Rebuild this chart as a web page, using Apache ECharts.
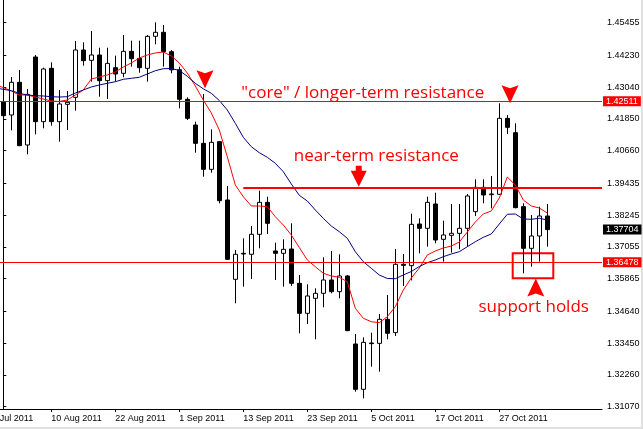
<!DOCTYPE html>
<html><head><meta charset="utf-8">
<script src="https://cdn.jsdelivr.net/npm/echarts@6/dist/echarts.min.js"></script>
<style>html,body{margin:0;padding:0;background:#fff}#c{width:643px;height:429px}</style>
</head><body><div id="c"></div>
<script>
// ---- categories (trading days) ----
const dates = ['2 Aug 2011','3 Aug 2011','4 Aug 2011','5 Aug 2011','8 Aug 2011','9 Aug 2011','10 Aug 2011','11 Aug 2011','12 Aug 2011','15 Aug 2011','16 Aug 2011','17 Aug 2011','18 Aug 2011','19 Aug 2011','22 Aug 2011','23 Aug 2011','24 Aug 2011','25 Aug 2011','26 Aug 2011','29 Aug 2011','30 Aug 2011','31 Aug 2011',
 '1 Sep 2011','2 Sep 2011','5 Sep 2011','6 Sep 2011','7 Sep 2011','8 Sep 2011','9 Sep 2011','12 Sep 2011','13 Sep 2011','14 Sep 2011','15 Sep 2011','16 Sep 2011','19 Sep 2011','20 Sep 2011','21 Sep 2011','22 Sep 2011','23 Sep 2011','26 Sep 2011','27 Sep 2011','28 Sep 2011','29 Sep 2011','30 Sep 2011',
 '3 Oct 2011','4 Oct 2011','5 Oct 2011','6 Oct 2011','7 Oct 2011','10 Oct 2011','11 Oct 2011','12 Oct 2011','13 Oct 2011','14 Oct 2011','17 Oct 2011','18 Oct 2011','19 Oct 2011','20 Oct 2011','21 Oct 2011','24 Oct 2011','25 Oct 2011','26 Oct 2011','27 Oct 2011','28 Oct 2011','31 Oct 2011',
 '1 Nov 2011','2 Nov 2011','3 Nov 2011','4 Nov 2011'];

// ---- OHLC ----
const open = [1.42496,1.41997,1.43221,1.40873,1.44170,1.41747,1.43745,1.41747,1.42397,1.42659,1.44432,1.44045,1.44245,1.43283,1.43770,1.43558,1.44382,1.44120,1.43745,1.44944,1.45094,1.44369,
 1.43690,1.42584,1.41622,1.40935,1.39961,1.40998,1.38813,1.35841,1.36815,1.36778,1.37526,1.38725,1.36903,1.36815,1.36977,1.35691,1.34567,1.35129,1.35317,1.35816,1.35379,1.35966,
 1.33418,1.31720,1.33456,1.33443,1.34343,1.33843,1.36403,1.36353,1.37914,1.37751,1.38663,1.37339,1.37489,1.37564,1.37751,1.38376,1.39287,1.39012,1.39025,1.41872,1.41335,
 1.38563,1.37002,1.37464,1.38213];
const close = [1.41972,1.43221,1.40848,1.42771,1.41747,1.43720,1.41747,1.42409,1.42471,1.44432,1.44032,1.44245,1.43283,1.43932,1.43533,1.44382,1.44107,1.43770,1.44944,1.45094,1.44369,1.43690,
 1.42584,1.41872,1.40935,1.39961,1.40973,1.38788,1.36590,1.36778,1.36790,1.37527,1.38725,1.37938,1.36815,1.36965,1.35691,1.34567,1.35217,1.35317,1.35816,1.35379,1.35966,1.33918,
 1.31720,1.33481,1.33431,1.34343,1.33818,1.36403,1.36365,1.37901,1.37751,1.38725,1.37314,1.37502,1.37564,1.37751,1.38963,1.39287,1.39000,1.39038,1.41872,1.41535,1.38526,
 1.37002,1.37464,1.38213,1.37704];
const low = [1.41497,1.41422,1.40830,1.40523,1.41273,1.41497,1.41597,1.40998,1.41435,1.42159,1.43845,1.43246,1.42684,1.42596,1.43246,1.43408,1.43808,1.43583,1.43246,1.44644,1.43808,1.43558,
 1.42246,1.41809,1.40586,1.39687,1.39836,1.38688,1.36565,1.34942,1.35566,1.35854,1.37002,1.37539,1.35816,1.35566,1.35591,1.33818,1.34168,1.33593,1.34792,1.35317,1.35129,1.33900,
 1.31633,1.31383,1.32569,1.32382,1.33593,1.33718,1.35591,1.35800,1.36815,1.37065,1.37190,1.36503,1.36840,1.36965,1.37065,1.38213,1.38688,1.38501,1.39000,1.41285,1.38501,
 1.36066,1.36315,1.36503,1.37065];
const high = [1.42809,1.43420,1.43683,1.42971,1.44245,1.43770,1.43970,1.42933,1.42896,1.44769,1.44719,1.45144,1.44519,1.44519,1.44220,1.44994,1.44782,1.44782,1.44994,1.45468,1.45369,1.44432,
 1.43808,1.42659,1.41747,1.42783,1.41460,1.41010,1.39337,1.36940,1.37377,1.37839,1.39162,1.38937,1.37215,1.37340,1.37939,1.36003,1.35654,1.35504,1.36665,1.36902,1.36778,1.36003,
 1.33793,1.33668,1.33843,1.34542,1.35254,1.36977,1.36790,1.38300,1.38126,1.38938,1.39087,1.38039,1.38663,1.38663,1.39038,1.39587,1.39587,1.39712,1.42434,1.41997,1.41685,
 1.38688,1.38251,1.38563,1.38663];

// ---- moving averages (first value = day before 2 Aug) ----
const redMA = [1.43121,1.43027,1.42896,1.42746,1.42746,1.42671,1.42596,1.42521,1.42503,1.42559,1.42746,1.42933,1.43346,1.43420,1.43495,1.43608,1.43795,1.43945,1.44132,1.44245,1.44320,1.44357,1.44207,
 1.43945,1.43570,1.43083,1.42559,1.42072,1.41435,1.40435,1.39375,1.38936,1.38588,1.38588,1.38562,1.38187,1.37876,1.37501,1.37033,1.36565,1.36314,1.36067,1.35966,1.35917,1.35752,
 1.34756,1.34381,1.34254,1.34216,1.34441,1.34815,1.35441,1.35891,1.36265,1.36752,1.36902,1.37014,1.37089,1.37239,1.37614,1.37988,1.38288,1.38401,1.38888,1.39674,1.39375,
 1.38813,1.38588,1.38513,1.38326];
const blueMA = [1.43008,1.42960,1.42907,1.42810,1.42746,1.42720,1.42709,1.42682,1.42671,1.42682,1.42821,1.42933,1.43046,1.43121,1.43184,1.43244,1.43334,1.43372,1.43409,1.43533,1.43656,1.43731,1.43739,
 1.43664,1.43447,1.43184,1.42978,1.42810,1.42540,1.42184,1.41686,1.41162,1.40809,1.40585,1.40412,1.40188,1.39873,1.39412,1.38989,1.38775,1.38438,1.38127,1.37839,1.37625,1.37378,
 1.36876,1.36501,1.36254,1.36003,1.35872,1.35864,1.36003,1.36134,1.36321,1.36464,1.36565,1.36689,1.36790,1.36876,1.37063,1.37250,1.37415,1.37539,1.37914,1.38277,1.38288,
 1.38101,1.38090,1.38127,1.38063];

// ---- axis ticks ----
const yTicks = [1.31070,1.32260,1.33450,1.34640,1.35865,1.37055,1.38245,1.39435,1.40660,1.41850,1.43040,1.44230,1.45455];
const xTickIndex = [-2,6,14,22,30,38,46,54,62];
const xTickLabels = ['29 Jul 2011','10 Aug 2011','22 Aug 2011','1 Sep 2011','13 Sep 2011','23 Sep 2011','5 Oct 2011','17 Oct 2011','27 Oct 2011'];

// ---- levels ----
const coreResistance = 1.42511;
const nearResistance = 1.39262;
const nearResStartIdx = 30;
const supportLevel = 1.36478;
const lastPrice = close[close.length - 1];

// ---- annotation anchors (index, price) ----
const arrowDownAnchors = [[25.21, 1.43338], [63.34, 1.42776]];
const arrowStemAnchor = [44.43, 1.39700];
const arrowUpAnchor = [66.56, 1.35535];
const textNotes = [
  ['"core" / longer-term resistance', 44.93, 1.42821],
  ['near-term resistance', 46.63, 1.40472],
  ['support holds', 66.3, 1.34793]
];
const supportBox = [[63.675, 1.36816], [68.75, 1.35879]];

const X_MIN = -0.4125, X_MAX = 74.8375;
const Y_MIN = 1.30983, Y_MAX = 1.46305;
const RED = '#ff0000';
const AXFONT = 'Liberation Sans, Arial, sans-serif';

const candleData = open.map((o, i) => [i, o, close[i], low[i], high[i]]);
const redData = redMA.map((v, i) => [i - 1, v]);
const blueData = blueMA.map((v, i) => [i - 1, v]);

function priceLabel(v, bg) {
  return { show: true, position: 'end', distance: 1, formatter: v.toFixed(5),
    backgroundColor: bg, color: '#fff', fontSize: 9, fontFamily: AXFONT,
    lineHeight: 10, padding: [0, 3, 0, 3] };
}

const chart = echarts.init(document.getElementById('c'), null, { renderer: 'canvas' });
chart.setOption({
  animation: false,
  backgroundColor: '#fff',
  grid: { left: 0, right: 41, top: 0, bottom: 20, containLabel: false },
  xAxis: {
    type: 'value', min: X_MIN, max: X_MAX,
    axisLine: { show: true, lineStyle: { color: '#000', width: 1 } },
    axisTick: { show: true, inside: false, length: 3, lineStyle: { color: '#000' }, customValues: xTickIndex },
    axisLabel: { show: true, customValues: xTickIndex, align: 'left', margin: 5,
      fontSize: 9, fontFamily: AXFONT, color: '#000',
      formatter: v => xTickLabels[xTickIndex.indexOf(Math.round(v))] || '' },
    splitLine: { show: false }
  },
  yAxis: {
    type: 'value', position: 'right', min: Y_MIN, max: Y_MAX,
    axisLine: { show: true, lineStyle: { color: '#000', width: 1 } },
    axisTick: { show: true, inside: false, length: 3, lineStyle: { color: '#000' }, customValues: yTicks },
    axisLabel: { show: true, customValues: yTicks, margin: 5, fontSize: 9, fontFamily: AXFONT, color: '#000',
      formatter: v => v.toFixed(5) },
    splitLine: { show: false }
  },
  series: [
    { type: 'candlestick', name: 'EURUSD', data: candleData, barWidth: 5, z: 2,
      itemStyle: { color: '#fff', color0: '#000', borderColor: '#000', borderColor0: '#000', borderWidth: 1 },
      emphasis: { disabled: true } },
    { type: 'line', name: 'MA fast', data: redData, symbol: 'none', z: 3,
      lineStyle: { color: RED, width: 1 }, emphasis: { disabled: true } },
    { type: 'line', name: 'MA slow', data: blueData, symbol: 'none', z: 4,
      lineStyle: { color: '#000080', width: 1 }, emphasis: { disabled: true },
      markLine: {
        silent: true, symbol: ['none', 'none'], animation: false, precision: 5,
        data: [
          { yAxis: coreResistance, lineStyle: { color: RED, width: 1, type: 'solid' }, label: priceLabel(coreResistance, RED) },
          { yAxis: supportLevel, lineStyle: { color: RED, width: 1, type: 'solid' }, label: priceLabel(supportLevel, RED) },
          { yAxis: lastPrice, lineStyle: { color: 'rgba(0,0,0,0)', width: 0 }, label: priceLabel(lastPrice, '#000') },
          [ { coord: [nearResStartIdx, nearResistance], lineStyle: { color: RED, width: 2, type: 'solid' }, label: { show: false } },
            { coord: [X_MAX, nearResistance] } ]
        ]
      },
      markArea: {
        silent: true,
        itemStyle: { color: 'rgba(0,0,0,0)', borderColor: RED, borderWidth: 2 },
        label: { show: false },
        data: [[ { coord: supportBox[0] }, { coord: supportBox[1] } ]]
      },
      markPoint: {
        silent: true, animation: false,
        data: [
          ...arrowDownAnchors.map(a => ({ coord: a, symbol: 'path://M0,0 L8,3 L16,0 L8,18 Z', symbolSize: [17, 18],
            itemStyle: { color: RED }, label: { show: false } })),
          { coord: arrowStemAnchor, symbol: 'path://M5,0 L11,0 L11,5 L16,5 L8,21 L0,5 L5,5 Z', symbolSize: [16, 21],
            itemStyle: { color: RED }, label: { show: false } },
          { coord: arrowUpAnchor, symbol: 'path://M8,0 L16,18 L8,15 L0,18 Z', symbolSize: [17, 18],
            itemStyle: { color: RED }, label: { show: false } },
          ...textNotes.map(t => ({ coord: [t[1], t[2]], symbol: 'rect', symbolSize: 1,
            itemStyle: { color: 'rgba(0,0,0,0)' },
            label: { show: true, position: 'inside', formatter: t[0], color: RED, fontSize: 17,
              fontFamily: 'Open Sans, Noto Sans, sans-serif' } }))
        ]
      }
    }
  ]
});

const firstX = chart.convertToPixel({ xAxisIndex: 0 }, xTickIndex[0]);
chart.setOption({
  graphic: [
    { type: 'text', silent: true, x: firstX, y: 414, style: { text: xTickLabels[0], fill: '#000', font: '9px ' + AXFONT, textVerticalAlign: 'top', verticalAlign: 'top' } },
    { type: 'rect', silent: true, shape: { x: 641, y: 0, width: 2, height: 429 }, style: { fill: '#e1e1e1' } },
    { type: 'rect', silent: true, shape: { x: 0, y: 427, width: 643, height: 2 }, style: { fill: '#e1e1e1' } }
  ]
});
</script>
</body></html>
